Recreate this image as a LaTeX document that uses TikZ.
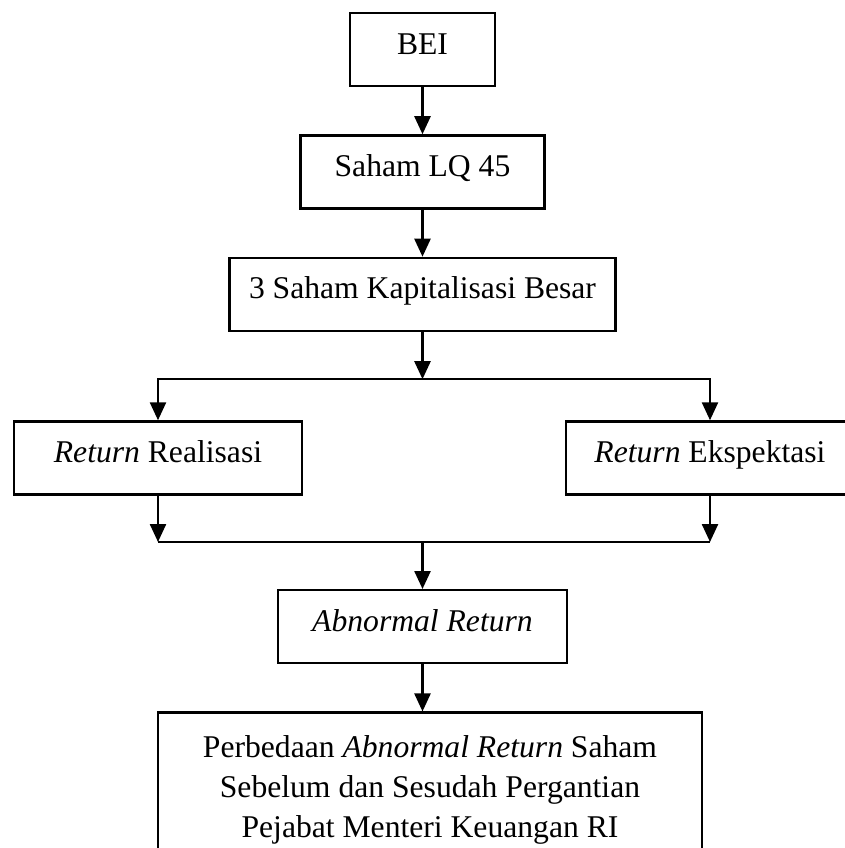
\documentclass[tikz,border=0pt]{standalone}
\usepackage{fontspec}
\setmainfont{Liberation Serif}
\usetikzlibrary{positioning,arrows.meta}

\begin{document}
\begin{tikzpicture}[font=\fontsize{18}{22.8}\selectfont,
  box/.style={draw, line width=1.4pt, minimum height=1.46cm, text height=0.44cm, text depth=0.26cm, inner xsep=0pt},
  arr/.style={line width=1.4pt, -{Triangle[length=0.36cm, width=0.32cm]}},
  node distance=0.94cm]

\useasboundingbox (0, 0) rectangle (16.9, -16.96);

\node[box, minimum width=2.9cm] (bei) at (8.45, -0.99) {BEI};

\node[box, minimum width=4.88cm, below=of bei] (lq) {Saham LQ 45};

\node[box, minimum width=7.72cm, below=of lq] (kap) {3 Saham Kapitalisasi Besar};

\coordinate[below=of kap] (split);

\node[box, minimum width=5.76cm] (real) at (3.16, -9.16) {\textit{Return} Realisasi};

\node[box, minimum width=5.76cm] (eksp) at (14.2, -9.16) {\textit{Return} Ekspektasi};

\coordinate (merge) at (8.45, -10.84);

\node[box, minimum width=5.78cm, below=of merge] (abn) {\textit{Abnormal Return}};

\node[draw, line width=1.4pt, align=center, inner ysep=0.45cm, minimum width=10.88cm, below=of abn, xshift=0.15cm] (beda)
  {Perbedaan \textit{Abnormal Return} Saham\\ Sebelum dan Sesudah Pergantian\\ Pejabat Menteri Keuangan RI};

\draw[arr] (bei) -- (lq);
\draw[arr] (lq) -- (kap);
\draw[arr] (kap) -- (split);

\draw[arr, {Triangle[length=0.36cm, width=0.32cm]}-{Triangle[length=0.36cm, width=0.32cm]}] (real.north) |- (split) -| (eksp.north);

\draw[arr] (real) -- (real.south |- merge);
\draw[arr] (eksp) -- (eksp.south |- merge);
\draw[line width=1.4pt] (real.south |- merge) -- (eksp.south |- merge);

\draw[arr] (merge) -- (abn);
\draw[arr] (abn.south) -- (abn.south |- beda.north);

\end{tikzpicture}
\end{document}
